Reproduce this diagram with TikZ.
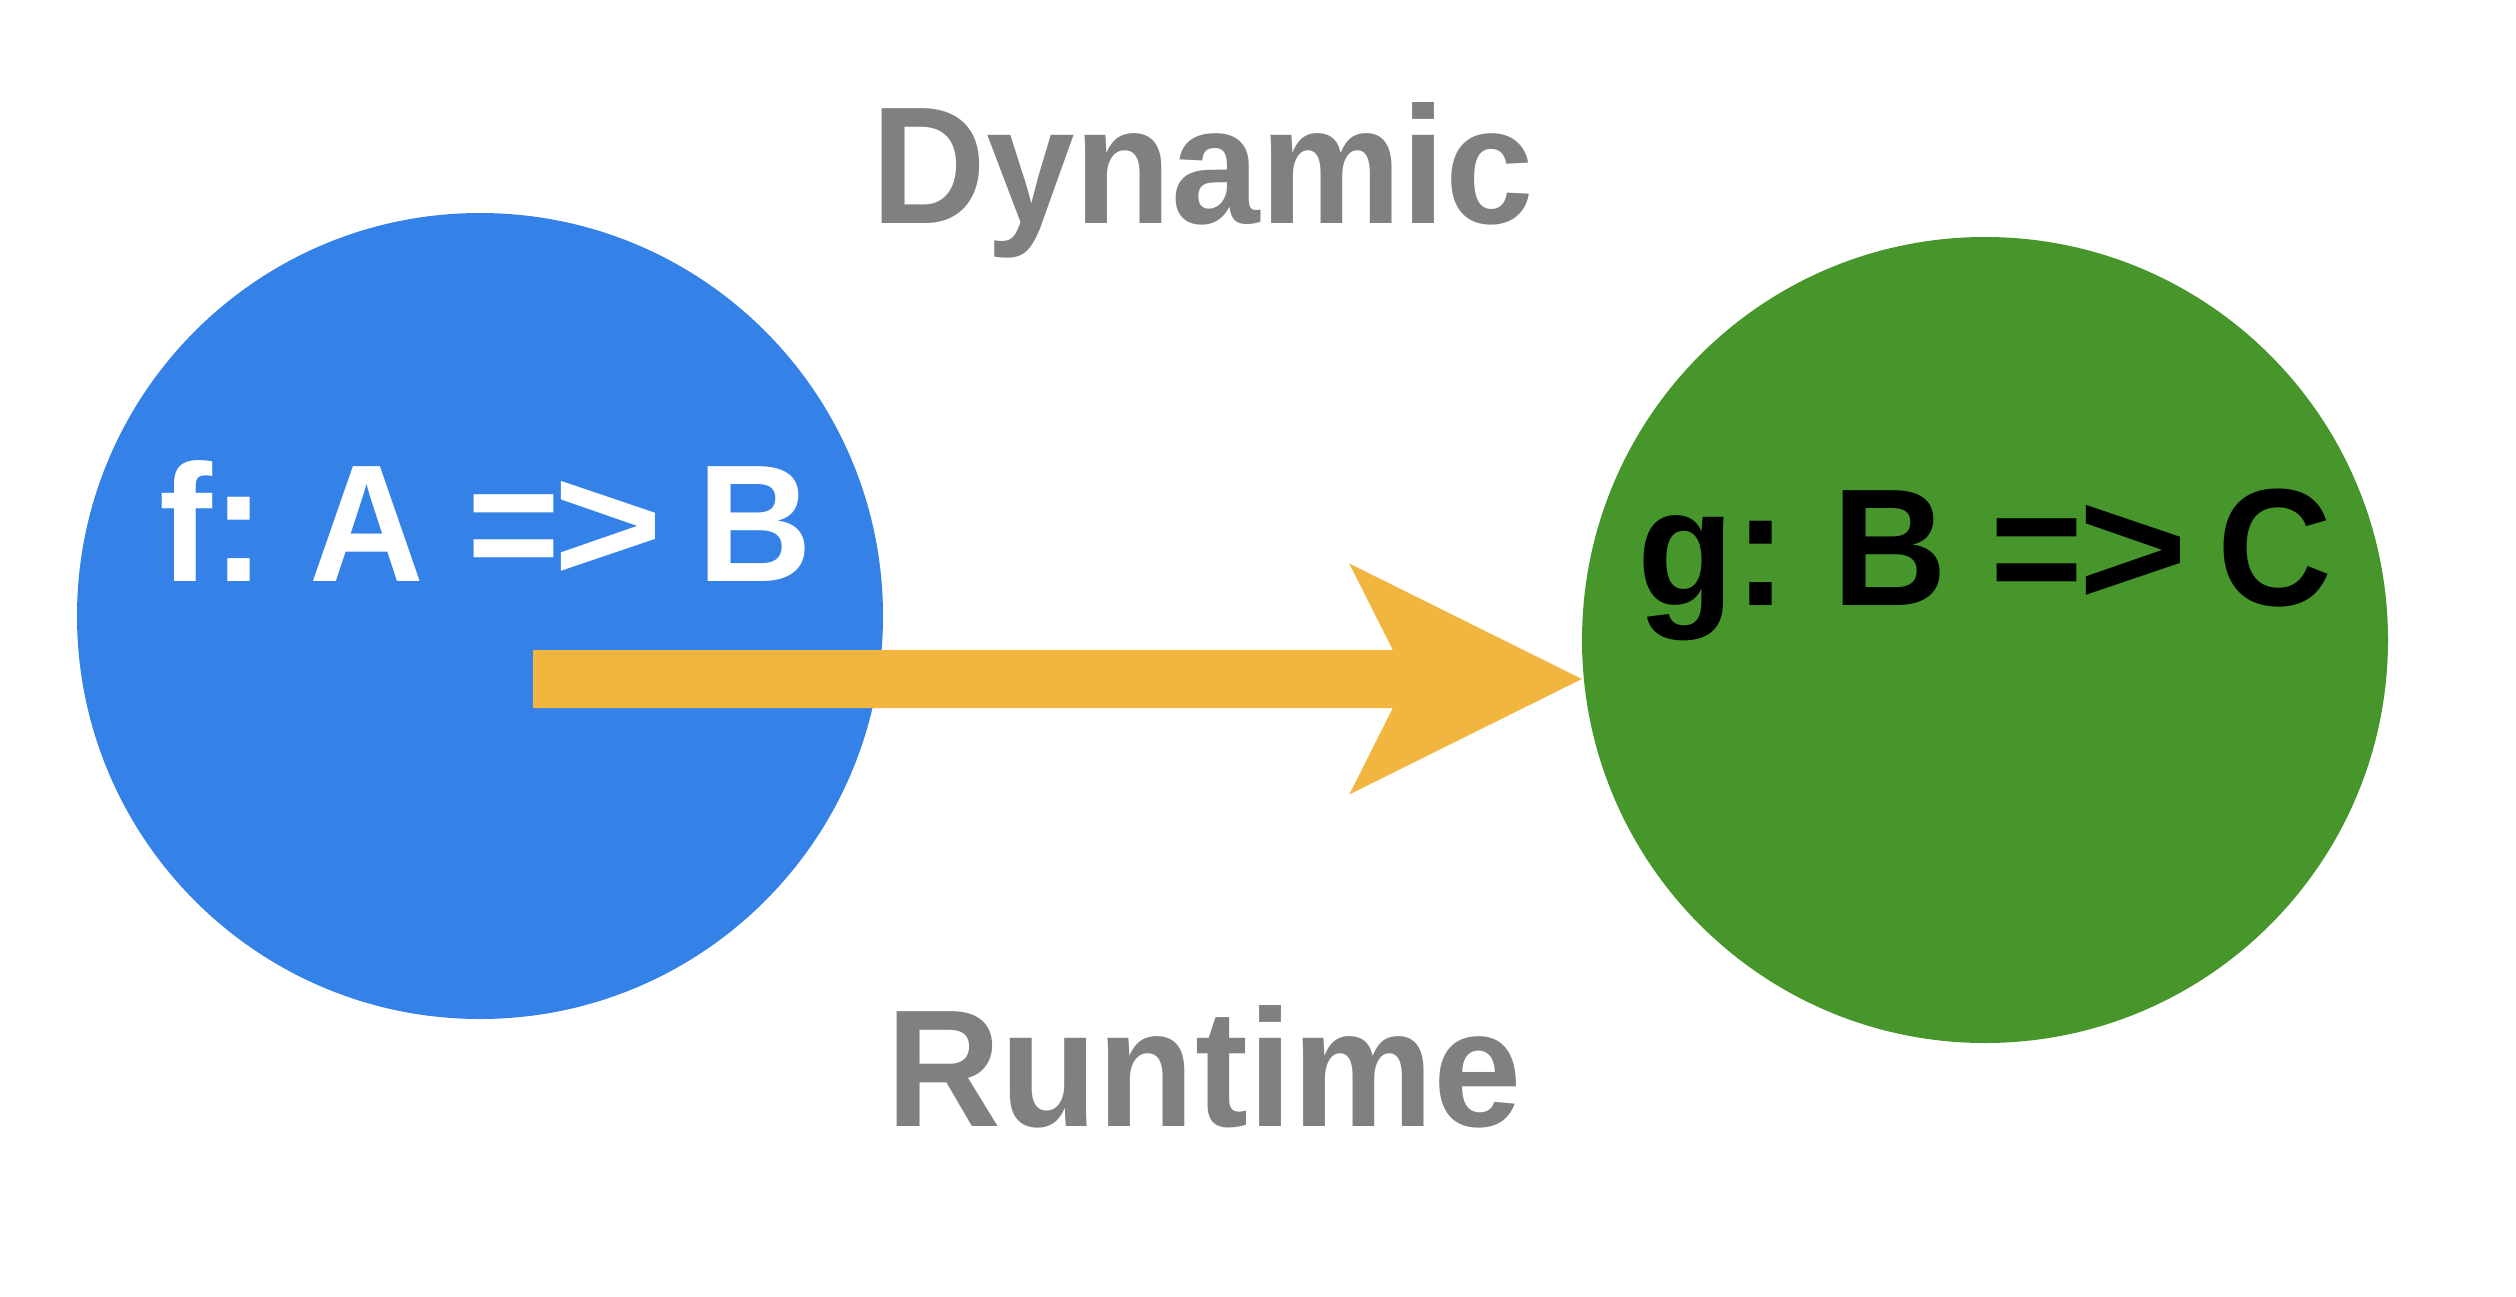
\documentclass[tikz,border=0pt]{standalone}
\usepackage{fontspec}
\usepackage{graphicx}
\setmainfont{Liberation Sans}
\definecolor{cblue}{HTML}{3481E8}
\definecolor{cgreen}{HTML}{46962B}
\definecolor{corange}{HTML}{F2B640}
\definecolor{cgray}{HTML}{808080}
\newcommand{\tall}[1]{\scalebox{1}[1.05]{#1}}
\newcommand{\wgt}{\scalebox{1.18}[1]{>}}
\begin{document}
\begin{tikzpicture}[x=1pt,y=-1pt,
  bigtext/.style={inner sep=0pt, anchor=base, font=\fontsize{159}{190}\selectfont\bfseries},
  ball/.style={circle, inner sep=0pt, minimum size=806pt, draw=none}]
\useasboundingbox (0,0) rectangle (2516,1296);
\node[ball, fill=cblue] (fa) at (480,616) {};
\node[ball, fill=cgreen] (gb) at (1985,640) {};
\node[bigtext, text=cgray] (dyn) at (1203,223) {\tall{Dynamic}};
\node[bigtext, text=cgray] (run) at (1204,1126) {\tall{Runtime}};
\node[bigtext, text=white] (flab) at (486,581) {\tall{f:\hspace{44pt}A\hspace{44pt}=\kern-7.5pt\wgt\hspace{35pt}B}};
\node[bigtext, text=black] (glab) at (1985,605) {\tall{g:\hspace{45pt}B\hspace{43pt}=\kern-5pt\wgt\hspace{30pt}C}};
\coordinate (s) at (533,679);
\coordinate (tip) at (gb.west |- s);
\fill[corange] (tip) -- ++(-232.5,-115.5) -- ++(43.5,86.5) -- (s |- 0,650)
  -- (s |- 0,708) -- ([xshift=-189pt]tip |- 0,708) -- ++(-43.5,86.5) -- cycle;
\end{tikzpicture}
\end{document}
